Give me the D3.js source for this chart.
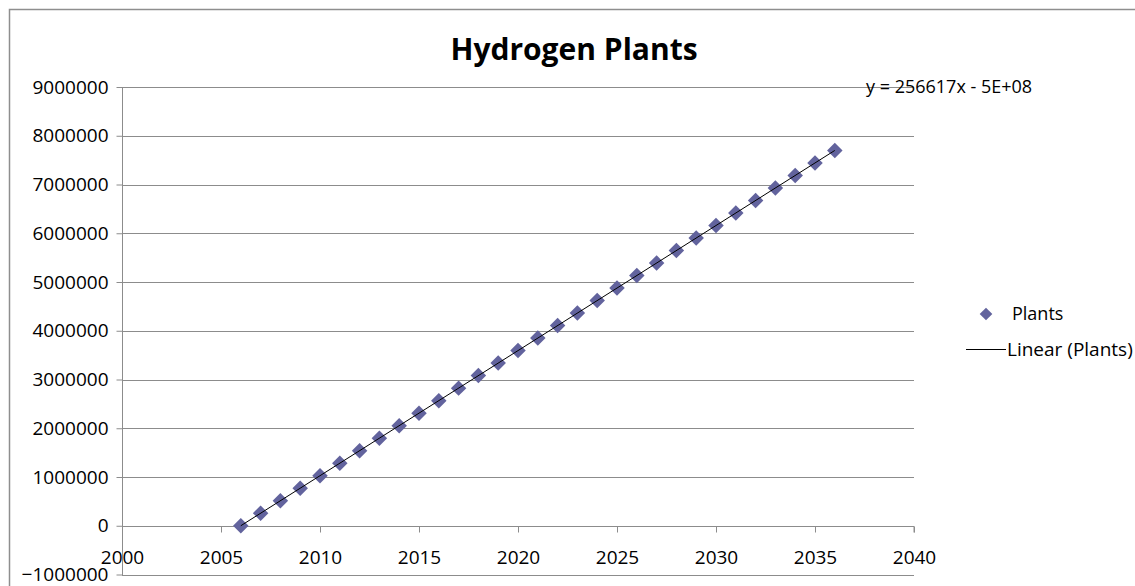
<!DOCTYPE html>
<html>
<head>
<meta charset="utf-8">
<script src="https://cdn.jsdelivr.net/npm/d3@7"></script>
<style>
  body { margin: 0; background: #fff; }
  svg { display: block; font-family: "Open Sans", sans-serif; }
</style>
</head>
<body>
<svg id="chart" width="1135" height="586"></svg>
<script>
// years 2006..2036
var years = [2006, 2007, 2008, 2009, 2010, 2011, 2012, 2013, 2014, 2015, 2016,
  2017, 2018, 2019, 2020, 2021, 2022, 2023, 2024, 2025, 2026,
  2027, 2028, 2029, 2030, 2031, 2032, 2033, 2034, 2035, 2036];
var plants = [0, 257000, 513000, 770000, 1026000, 1283000, 1540000, 1796000, 2053000, 2310000, 2566000,
  2823000, 3080000, 3336000, 3593000, 3849000, 4106000, 4363000, 4619000, 4876000, 5132000,
  5389000, 5646000, 5902000, 6159000, 6415000, 6672000, 6929000, 7185000, 7442000, 7698000];
var xTicks = [2000, 2005, 2010, 2015, 2020, 2025, 2030, 2035, 2040];
var yTicks = [-1000000, 0, 1000000, 2000000, 3000000, 4000000, 5000000, 6000000, 7000000, 8000000, 9000000];
var title = "Hydrogen Plants";
var seriesName = "Plants";
var trendName = "Linear (Plants)";
var equation = "y = 256617x - 5E+08";

var svg = d3.select("#chart");
var markColor = "#62639d";
var gridColor = "#8c8c8c";

// outer chart border
svg.append("rect")
  .attr("x", 9.5).attr("y", 9.5)
  .attr("width", 1140).attr("height", 600)
  .attr("fill", "none")
  .attr("stroke", "#8e8e8e")
  .attr("stroke-width", 1.5);

var x = d3.scaleLinear().domain([2000, 2040]).range([122, 914]);
var y = d3.scaleLinear().domain([-1000000, 9000000]).range([574.5, 87]);

// horizontal gridlines
svg.append("g")
  .selectAll("line")
  .data(yTicks)
  .enter()
  .append("line")
  .attr("x1", x(2000)).attr("x2", x(2040))
  .attr("y1", function(d){ return Math.round(y(d)) + 0.5; })
  .attr("y2", function(d){ return Math.round(y(d)) + 0.5; })
  .attr("stroke", gridColor)
  .attr("stroke-width", 1);

// y axis
var yAxis = svg.append("g")
  .attr("transform", "translate(" + (x(2000) + 0.5) + ",0)")
  .call(d3.axisLeft(y).tickValues(yTicks).tickFormat(d3.format("d")).tickSize(6).tickPadding(8));

// x axis sits on the zero line
var xAxis = svg.append("g")
  .attr("transform", "translate(0," + (Math.round(y(0)) + 0.5) + ")")
  .call(d3.axisBottom(x).tickValues(xTicks).tickFormat(d3.format("d")).tickSize(6).tickPadding(18));

[yAxis, xAxis].forEach(function(g){
  g.selectAll("path.domain").attr("stroke", gridColor).attr("stroke-width", 1);
  g.selectAll(".tick line").attr("stroke", gridColor);
  g.selectAll("text")
    .style("font-size", "19px")
    .attr("fill", "#000")
    .attr("font-family", "Open Sans, sans-serif");
});
yAxis.select("path.domain").attr("d", "M0," + (Math.round(y(9000000)) + 0.5) + "V" + (Math.round(y(-1000000)) + 0.5));
xAxis.select("path.domain").attr("d", "M" + x(2000) + ",0H" + x(2040) + "V6");
xAxis.selectAll(".tick").filter(function(d){ return d === 2000; }).select("line").remove();

// linear trendline from least squares
var mx = d3.mean(years), my = d3.mean(plants);
var slope = d3.sum(years, function(v, i){ return (v - mx) * (plants[i] - my); }) /
  d3.sum(years, function(v){ return (v - mx) * (v - mx); });
var icpt = my - slope * mx;
var xs = d3.extent(years);

// diamonds
var diamond = d3.symbol().type(d3.symbolSquare).size(120);
svg.append("g")
  .selectAll("path")
  .data(years)
  .enter()
  .append("path")
  .attr("d", diamond)
  .attr("transform", function(d, i){
    return "translate(" + x(d) + "," + y(plants[i]) + ") rotate(45)";
  })
  .attr("fill", markColor);

// trendline on top of markers
svg.append("line")
  .attr("x1", x(xs[0])).attr("y1", y(slope * xs[0] + icpt))
  .attr("x2", x(xs[1])).attr("y2", y(slope * xs[1] + icpt))
  .attr("stroke", "#000")
  .attr("stroke-width", 1);

// title
svg.append("text")
  .attr("x", 574).attr("y", 60)
  .attr("text-anchor", "middle")
  .style("font-size", "30px")
  .style("font-weight", "bold")
  .text(title);

// trend equation
svg.append("text")
  .attr("x", 866).attr("y", 93)
  .style("font-size", "18px")
  .text(equation);

// legend
svg.append("path")
  .attr("d", d3.symbol().type(d3.symbolSquare).size(80))
  .attr("transform", "translate(986,314) rotate(45)")
  .attr("fill", markColor);
svg.append("text")
  .attr("x", 1012).attr("y", 320)
  .style("font-size", "18px")
  .text(seriesName);
svg.append("line")
  .attr("x1", 966).attr("x2", 1006)
  .attr("y1", 349.5).attr("y2", 349.5)
  .attr("stroke", "#000");
svg.append("text")
  .attr("x", 1007).attr("y", 356)
  .style("font-size", "19px")
  .text(trendName);
</script>
</body>
</html>
